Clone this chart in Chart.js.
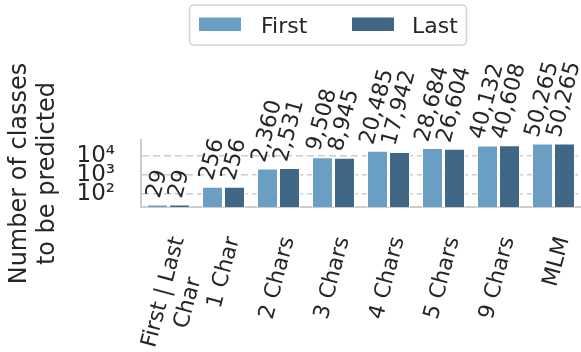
<!DOCTYPE html>
<html>
<head>
<meta charset="utf-8">
<script src="https://cdn.jsdelivr.net/npm/chart.js@4.4.1/dist/chart.umd.min.js"></script>
<style>
  html, body { margin: 0; padding: 0; background: #fff; }
</style>
</head>
<body>
<canvas id="chart" width="581" height="352"></canvas>
<script>
// trailing spaces keep the short second line centred under the first once rotated
const categories = [["First | Last", "Char     "], "1 Char", "2 Chars", "3 Chars", "4 Chars", "5 Chars", "9 Chars", "MLM"]
const firstValues = [29, 256, 2360, 9508, 20485, 28684, 40132, 50265]
const lastValues = [29, 256, 2531, 8945, 17942, 26604, 40608, 50265]
const seriesNames = ["First", "Last"]
const yTickValues = [100, 1000, 10000]
const yTickLabels = ["10²", "10³", "10⁴"]

const FONT = "'DejaVu Sans', sans-serif"
const TEXT = "#262626"
const LIGHT = "#6a9fc3"
const DARK = "#416787"

Chart.defaults.font.family = FONT
Chart.defaults.color = TEXT

// rotated value labels above each bar
const valueLabels = {
  id: "valueLabels",
  afterDatasetsDraw(chart) {
    const ctx = chart.ctx
    const angle = 75 * Math.PI / 180
    const size = 22
    ctx.save()
    ctx.font = `${size}px ${FONT}`
    ctx.fillStyle = TEXT
    ctx.textAlign = "center"
    ctx.textBaseline = "middle"
    chart.data.datasets.forEach((ds, i) => {
      chart.getDatasetMeta(i).data.forEach((bar, j) => {
        const text = ds.data[j].toLocaleString("en-US")
        const w = ctx.measureText(text).width
        const h = size * 1.17
        const boxH = w * Math.sin(angle) + h * Math.cos(angle)
        ctx.save()
        ctx.translate(bar.x, bar.y - 3 - boxH / 2)
        ctx.rotate(-angle)
        ctx.fillText(text, 0, 0)
        ctx.restore()
      })
    })
    ctx.restore()
  }
}

// framed legend above the plot
const boxLegend = {
  id: "boxLegend",
  afterDraw(chart) {
    const ctx = chart.ctx
    const x = 189.5, y = 5, w = 277, h = 40, r = 4
    ctx.save()
    ctx.beginPath()
    ctx.moveTo(x + r, y)
    ctx.arcTo(x + w, y, x + w, y + h, r)
    ctx.arcTo(x + w, y + h, x, y + h, r)
    ctx.arcTo(x, y + h, x, y, r)
    ctx.arcTo(x, y, x + w, y, r)
    ctx.closePath()
    ctx.fillStyle = "rgba(255,255,255,0.8)"
    ctx.fill()
    ctx.strokeStyle = "#d4d4d4"
    ctx.lineWidth = 1.5
    ctx.stroke()

    ctx.font = `22px ${FONT}`
    ctx.textBaseline = "alphabetic"
    const items = [
      { sx: 199, tx: 261 },
      { sx: 352, tx: 412 }
    ]
    chart.data.datasets.forEach((ds, i) => {
      ctx.fillStyle = ds.backgroundColor
      ctx.fillRect(items[i].sx, 17.5, 42, 13.5)
      ctx.fillStyle = TEXT
      ctx.fillText(ds.label, items[i].tx, 32.5)
    })
    ctx.restore()
  }
}

new Chart(document.getElementById("chart"), {
  type: "bar",
  data: {
    labels: categories,
    datasets: [
      {
        label: seriesNames[0],
        data: firstValues,
        backgroundColor: LIGHT,
        borderColor: "#ffffff",
        borderWidth: 1.5,
        borderSkipped: "bottom",
        categoryPercentage: 0.8,
        barPercentage: 1.0
      },
      {
        label: seriesNames[1],
        data: lastValues,
        backgroundColor: DARK,
        borderColor: "#ffffff",
        borderWidth: 1.5,
        borderSkipped: "bottom",
        categoryPercentage: 0.8,
        barPercentage: 1.0
      }
    ]
  },
  options: {
    responsive: false,
    animation: false,
    devicePixelRatio: 1,
    layout: {
      padding: { top: 140, right: 0, left: 0, bottom: 0 }
    },
    plugins: {
      legend: { display: false },
      tooltip: { enabled: false }
    },
    scales: {
      x: {
        grid: { display: false, drawTicks: false },
        border: { display: true, color: "#cccccc", width: 2 },
        ticks: {
          autoSkip: false,
          minRotation: 75,
          maxRotation: 75,
          padding: 27,
          labelOffset: 10,
          color: TEXT,
          font: { size: 22 }
        },
        afterFit(scale) {
          scale.height = 145
          scale.paddingLeft = 0
          scale.paddingRight = 0
        }
      },
      y: {
        type: "logarithmic",
        min: 20,
        max: 72900,
        afterBuildTicks(scale) {
          scale.ticks = yTickValues.map(v => ({ value: v }))
        },
        grid: {
          color: "#cccccc",
          lineWidth: 1.5,
          drawTicks: false
        },
        border: { display: true, color: "#cccccc", width: 2, dash: [7, 4] },
        ticks: {
          padding: 26,
          color: TEXT,
          font: { size: 23 },
          callback: function(value) {
            const idx = yTickValues.indexOf(value)
            return idx >= 0 ? yTickLabels[idx] : ""
          }
        },
        title: {
          display: true,
          text: ["Number of classes", "to be predicted"],
          color: TEXT,
          font: { size: 24 },
          padding: { top: 5, bottom: 0 }
        },
        afterFit(scale) {
          scale.width = 141
        }
      }
    }
  },
  plugins: [valueLabels, boxLegend]
})
</script>
</body>
</html>
